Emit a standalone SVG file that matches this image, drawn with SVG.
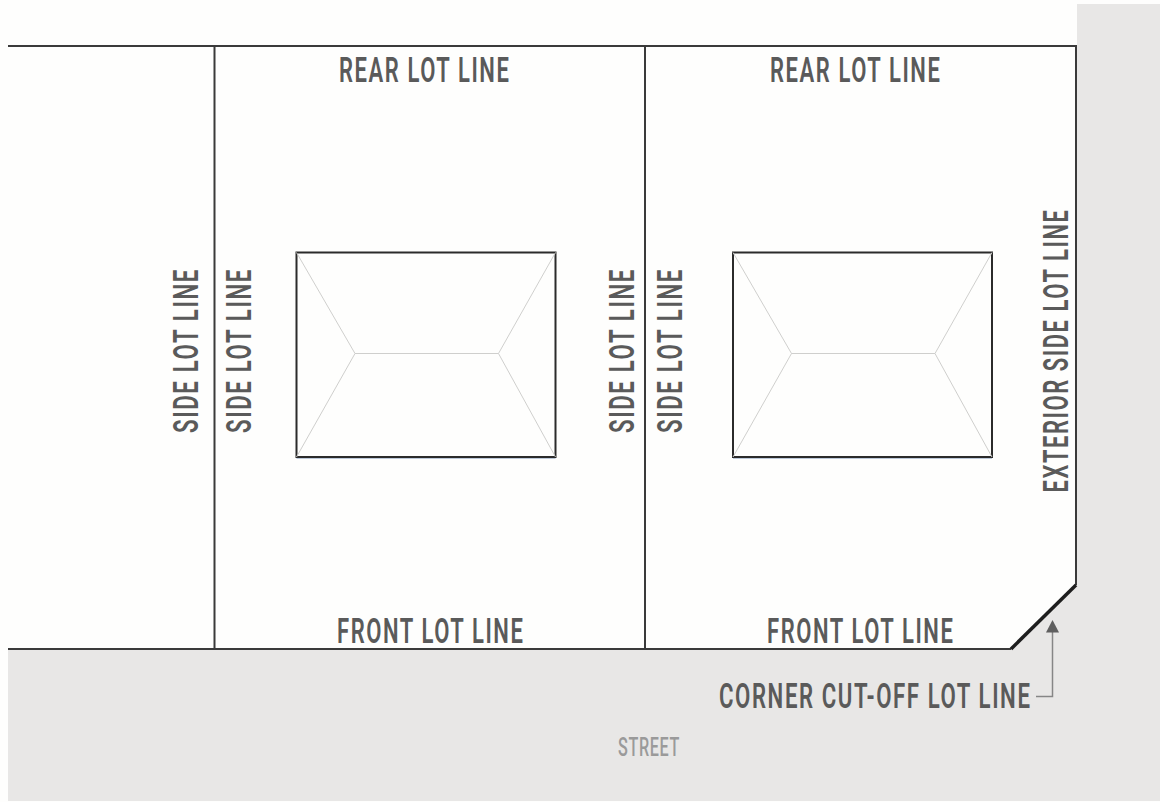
<svg xmlns="http://www.w3.org/2000/svg" width="1160" height="802" viewBox="0 0 1160 802">
<style>
.lot{fill:none;stroke:#3a3a3a;stroke-width:2}
.wall{fill:none;stroke:#2b2b2b;stroke-width:2}
.roof{fill:none;stroke:#cfcfcd;stroke-width:1}
.eave{stroke:#7d93b5;stroke-width:1}
text{font-family:"Roboto","Liberation Sans",sans-serif;font-size:35px;font-weight:600;letter-spacing:2.5px;fill:#5a5a5a}
.street{font-size:25px;fill:#9a9a9a;font-weight:500;letter-spacing:1px}
</style>
<defs>
<g id="house">
<line class="eave" x1="0" y1="205.5" x2="259" y2="205.5"/>
<rect class="wall" x="0" y="0" width="259" height="204.5"/>
<path class="roof" d="M0 0L58.500 101H202L259 0M0 204.500L58.500 101M202 101L259 204.500"/>
</g>
</defs>
<rect width="1160" height="802" fill="#fefefd"/>
<path d="M1077 4H1160V801H8V650H1011L1077 585Z" fill="#e8e7e6"/>
<g id="lot-lines">
<path class="lot" d="M8 46H1076V585"/>
<path class="lot" d="M8 649H1011"/>
<path class="lot" d="M214.500 46V649M645 46V649"/>
<path d="M1011 649L1076 585" fill="none" stroke="#1e1e1e" stroke-width="3.500"/>
</g>
<g id="house-left"><use href="#house" x="296.500" y="252.500"/></g>
<g id="house-right"><use href="#house" x="733" y="252.500"/></g>
<g id="connectors">
<path d="M1036 696.500H1052.500V631" fill="none" stroke="#868686" stroke-width="1.500"/>
<path d="M1052.500 620L1059 632.500H1046Z" fill="#5f5f5f"/>
</g>
<g id="labels">
<text x="339" y="81.500" textLength="171.500" lengthAdjust="spacingAndGlyphs">REAR LOT LINE</text>
<text x="770" y="81.500" textLength="171.500" lengthAdjust="spacingAndGlyphs">REAR LOT LINE</text>
<text x="337" y="642.500" textLength="187.500" lengthAdjust="spacingAndGlyphs">FRONT LOT LINE</text>
<text x="767" y="642.500" textLength="187.500" lengthAdjust="spacingAndGlyphs">FRONT LOT LINE</text>
<text transform="translate(719 707.500) scale(.6 1)" textLength="520.800" lengthAdjust="spacingAndGlyphs">CORNER CUT-OFF LOT LINE</text>
<text class="street" x="618" y="756" textLength="62" lengthAdjust="spacingAndGlyphs">STREET</text>
<text transform="translate(197.500 433) rotate(-90)" textLength="165" lengthAdjust="spacingAndGlyphs">SIDE LOT LINE</text>
<text transform="translate(251 433) rotate(-90)" textLength="165" lengthAdjust="spacingAndGlyphs">SIDE LOT LINE</text>
<text transform="translate(634 433) rotate(-90)" textLength="165" lengthAdjust="spacingAndGlyphs">SIDE LOT LINE</text>
<text transform="translate(682 433) rotate(-90)" textLength="165" lengthAdjust="spacingAndGlyphs">SIDE LOT LINE</text>
<text transform="translate(1067.500 492.500) rotate(-90)" textLength="284" lengthAdjust="spacingAndGlyphs">EXTERIOR SIDE LOT LINE</text>
</g>
</svg>
